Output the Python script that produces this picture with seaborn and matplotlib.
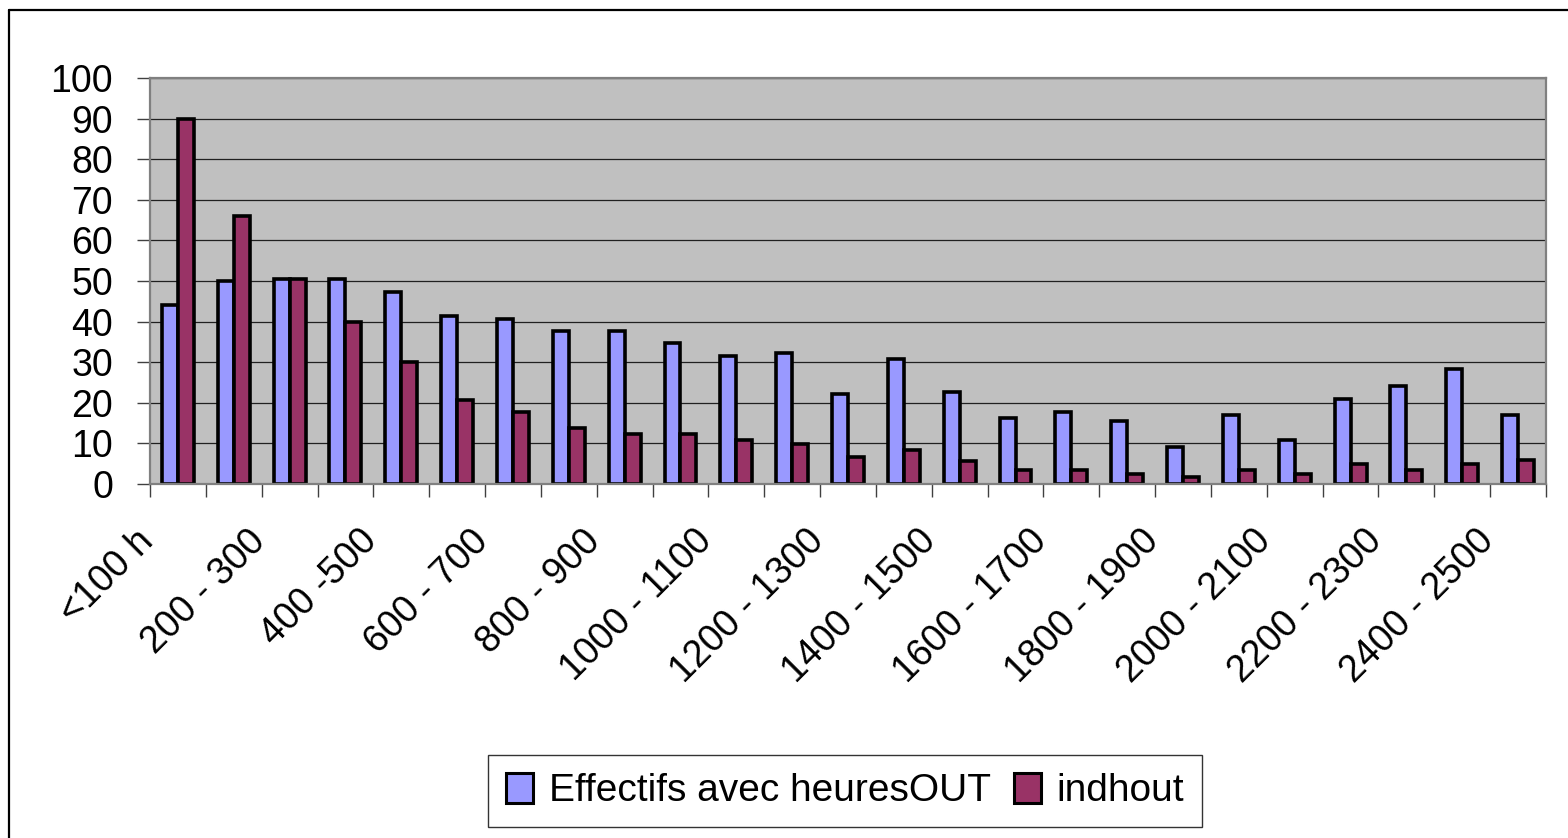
import numpy as np
import pandas as pd
import matplotlib
matplotlib.use("Agg")
import matplotlib.pyplot as plt
import matplotlib.transforms as mtransforms
from matplotlib.lines import Line2D
import seaborn as sns

# data
classes = ["<100 h", "100 - 200", "200 - 300", "300 - 400", "400 -500",
           "500 - 600", "600 - 700", "700 - 800", "800 - 900", "900 - 1000",
           "1000 - 1100", "1100 - 1200", "1200 - 1300", "1300 - 1400",
           "1400 - 1500", "1500 - 1600", "1600 - 1700", "1700 - 1800",
           "1800 - 1900", "1900 - 2000", "2000 - 2100", "2100 - 2200",
           "2200 - 2300", "2300 - 2400", "2400 - 2500"]
effectifs = [44, 50, 50.6, 50.6, 47.4, 41.4, 40.6, 37.6, 37.6, 34.8,
             31.6, 32.3, 22.1, 30.9, 22.6, 16.2, 17.7, 15.5, 9.1, 16.9,
             10.8, 20.9, 24.2, 28.4, 16.9]
indhout = [90, 66, 50.6, 40, 30, 20.6, 17.7, 13.8, 12.3, 12.3,
           10.8, 9.9, 6.6, 8.3, 5.7, 3.4, 3.4, 2.5, 1.7, 3.4,
           2.5, 5.0, 3.4, 5.0, 5.9]
series = ["Effectifs avec heuresOUT", "indhout"]
yticks = list(range(0, 101, 10))

df = pd.DataFrame({
    "classe": classes * 2,
    "valeur": effectifs + indhout,
    "serie": [series[0]] * len(classes) + [series[1]] * len(classes),
})

sns.set_style("white")
plt.rcParams["font.family"] = ["Liberation Sans", "DejaVu Sans"]
plt.rcParams["text.color"] = "black"
plt.rcParams["xtick.labelcolor"] = "black"
plt.rcParams["ytick.labelcolor"] = "black"

fig = plt.figure(figsize=(15.68, 8.38), dpi=100)
ax = fig.add_axes([150 / 1568, 1 - 484 / 838, (1546 - 150) / 1568, (484 - 78) / 838])
ax.set_facecolor("#C0C0C0")

sns.barplot(data=df, x="classe", y="valeur", hue="serie", order=classes,
            hue_order=series, palette=["#9999FF", "#993366"], width=4 / 7,
            edgecolor="black", linewidth=2.6, saturation=1, errorbar=None,
            legend=False, ax=ax)

ax.set_ylim(0, 100)
ax.set_xlim(-0.5, len(classes) - 0.5)
ax.set_yticks(yticks)
ax.set_yticklabels([str(v) for v in yticks], fontsize=27)
ax.yaxis.grid(True, color="#202020", linewidth=0.9)
ax.set_axisbelow(True)
ax.set_xlabel("")
ax.set_ylabel("")

# labels on every other class, tick marks between classes
ax.set_xticks(range(0, len(classes), 2))
ax.set_xticklabels(classes[::2], fontsize=27, rotation=45, ha="right", va="top")
ax.set_xticks(np.arange(-0.5, len(classes), 1), minor=True)
ax.tick_params(axis="x", which="major", length=0, pad=28)
ax.tick_params(axis="x", which="minor", length=9.5, width=1, color="#404040",
               direction="out", bottom=True)
ax.tick_params(axis="y", length=9.5, width=1, color="#404040", direction="out",
               pad=17, left=True)
shift = mtransforms.ScaledTranslation(-17 / 100, 0, fig.dpi_scale_trans)
for lab in ax.get_xticklabels():
    lab.set_transform(lab.get_transform() + shift)

for s in ax.spines.values():
    s.set_visible(True)
    s.set_color("#808080")
    s.set_linewidth(1.6)

# outer chart frame (left and top edges only visible)
fig.add_artist(Line2D([9 / 1568, 9 / 1568], [0, 1 - 10 / 838], color="black",
                      linewidth=1.6, transform=fig.transFigure))
fig.add_artist(Line2D([9 / 1568, 1], [1 - 10 / 838, 1 - 10 / 838], color="black",
                      linewidth=1.6, transform=fig.transFigure))

handles = [plt.Rectangle((0, 0), 1, 1, facecolor=c, edgecolor="black", linewidth=2.2)
           for c in ["#9999FF", "#993366"]]
leg = fig.legend(handles, series, loc="center", bbox_to_anchor=(845 / 1568, 1 - 791 / 838),
                 ncol=2, fontsize=28, frameon=True, fancybox=False,
                 handlelength=0.7, handleheight=0.8, handletextpad=0.4,
                 columnspacing=0.6, borderpad=0.45, borderaxespad=0)
leg.get_frame().set_edgecolor("black")
leg.get_frame().set_linewidth(1)

fig.savefig("out.png", dpi=100)
